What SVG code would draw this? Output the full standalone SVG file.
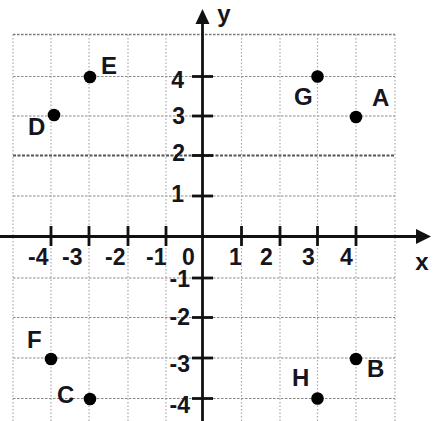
<svg xmlns="http://www.w3.org/2000/svg" width="433" height="421" viewBox="0 0 433 421">
<style>
.gh{stroke:#888;stroke-width:1.2;stroke-dasharray:2.5 1.5;fill:none}
.gt{stroke:#777;stroke-width:1.4;stroke-dasharray:2.5 1.5;fill:none}
.gv{stroke:#aaa;stroke-width:1.2;stroke-dasharray:1.5 2;fill:none}
.gd{stroke:#555;stroke-width:1.8;stroke-dasharray:3 1.5;fill:none}
.ax{stroke:#111;stroke-width:2.8;fill:none}
.tk{stroke:#111;stroke-width:2.8}
.ar{fill:#111}
.n{font-family:"Liberation Sans",Arial,sans-serif;font-weight:bold;font-size:23px;fill:#151520}
.l{font-family:"Liberation Sans",Arial,sans-serif;font-weight:bold;font-size:24px;fill:#151520}
.pt{fill:#000}
</style>
<rect width="433" height="421" fill="#fff"/>
<g id="grid">
<line class="gt" x1="13" y1="34.5" x2="395" y2="34.5"/>
<line class="gh" x1="13" y1="76.5" x2="395" y2="76.5"/>
<line class="gh" x1="13" y1="116" x2="395" y2="116"/>
<line class="gd" x1="13" y1="155.5" x2="395" y2="155.5"/>
<line class="gh" x1="13" y1="196" x2="395" y2="196"/>
<line class="gh" x1="13" y1="278" x2="395" y2="278"/>
<line class="gh" x1="13" y1="317.5" x2="395" y2="317.5"/>
<line class="gh" x1="13" y1="358" x2="395" y2="358"/>
<line class="gh" x1="13" y1="398.5" x2="395" y2="398.5"/>
<line class="gv" x1="13" y1="34.5" x2="13" y2="421"/>
<line class="gv" x1="51" y1="34.5" x2="51" y2="421"/>
<line class="gv" x1="89" y1="34.5" x2="89" y2="421"/>
<line class="gv" x1="128" y1="34.5" x2="128" y2="421"/>
<line class="gv" x1="166" y1="34.5" x2="166" y2="421"/>
<line class="gv" x1="241.5" y1="34.5" x2="241.5" y2="421"/>
<line class="gv" x1="280" y1="34.5" x2="280" y2="421"/>
<line class="gv" x1="317.5" y1="34.5" x2="317.5" y2="421"/>
<line class="gv" x1="356" y1="34.5" x2="356" y2="421"/>
<line class="gv" x1="395" y1="34.5" x2="395" y2="421"/>
</g>
<g id="axes">
<line class="ax" x1="0" y1="236.5" x2="418" y2="236.5"/>
<polygon class="ar" points="431,236.5 416,229 416,244"/>
<line class="ax" x1="202.5" y1="421" x2="202.5" y2="22"/>
<polygon class="ar" points="202.5,9 195.5,24 209.5,24"/>
<g id="xticks">
<line class="tk" x1="51" y1="226" x2="51" y2="246"/>
<line class="tk" x1="89" y1="226" x2="89" y2="246"/>
<line class="tk" x1="128" y1="226" x2="128" y2="246"/>
<line class="tk" x1="166" y1="226" x2="166" y2="246"/>
<line class="tk" x1="241.5" y1="226" x2="241.5" y2="246"/>
<line class="tk" x1="280" y1="226" x2="280" y2="246"/>
<line class="tk" x1="317.5" y1="226" x2="317.5" y2="246"/>
<line class="tk" x1="356" y1="226" x2="356" y2="246"/>
</g>
<g id="yticks">
<line class="tk" x1="192" y1="76.5" x2="213" y2="76.5"/>
<line class="tk" x1="192" y1="116" x2="213" y2="116"/>
<line class="tk" x1="192" y1="155.5" x2="213" y2="155.5"/>
<line class="tk" x1="192" y1="196" x2="213" y2="196"/>
<line class="tk" x1="192" y1="278" x2="213" y2="278"/>
<line class="tk" x1="192" y1="317.5" x2="213" y2="317.5"/>
<line class="tk" x1="192" y1="358" x2="213" y2="358"/>
<line class="tk" x1="192" y1="398.5" x2="213" y2="398.5"/>
</g>
<text class="l" x="224" y="22" text-anchor="middle">y</text>
<text class="l" x="422" y="270" text-anchor="middle">x</text>
</g>
<g id="xlabels" class="n">
<text x="28" y="265">-4</text>
<text x="62" y="265">-3</text>
<text x="105" y="265">-2</text>
<text x="146" y="265">-1</text>
<text x="182" y="265">0</text>
<text x="229" y="265">1</text>
<text x="260" y="265">2</text>
<text x="302" y="265">3</text>
<text x="340" y="265">4</text>
</g>
<g id="ylabels" class="n" text-anchor="end">
<text x="184" y="88">4</text>
<text x="185" y="124">3</text>
<text x="185" y="161">2</text>
<text x="184" y="202">1</text>
<text x="190" y="287">-1</text>
<text x="190" y="325">-2</text>
<text x="190" y="372">-3</text>
<text x="190" y="413">-4</text>
</g>
<g id="A"><circle class="pt" cx="356" cy="117" r="6.3"/><text class="l" x="372" y="106">A</text></g>
<g id="B"><circle class="pt" cx="356" cy="359" r="6.3"/><text class="l" x="367" y="377">B</text></g>
<g id="C"><circle class="pt" cx="90" cy="399" r="6.3"/><text class="l" x="57" y="403">C</text></g>
<g id="D"><circle class="pt" cx="54" cy="115" r="6.3"/><text class="l" x="28" y="135">D</text></g>
<g id="E"><circle class="pt" cx="90" cy="77" r="6.3"/><text class="l" x="101" y="74">E</text></g>
<g id="F"><circle class="pt" cx="51" cy="359" r="6.3"/><text class="l" x="27" y="348">F</text></g>
<g id="G"><circle class="pt" cx="317.5" cy="76.5" r="6.3"/><text class="l" x="294" y="105">G</text></g>
<g id="H"><circle class="pt" cx="317.5" cy="398.5" r="6.3"/><text class="l" x="292" y="386">H</text></g>
</svg>
